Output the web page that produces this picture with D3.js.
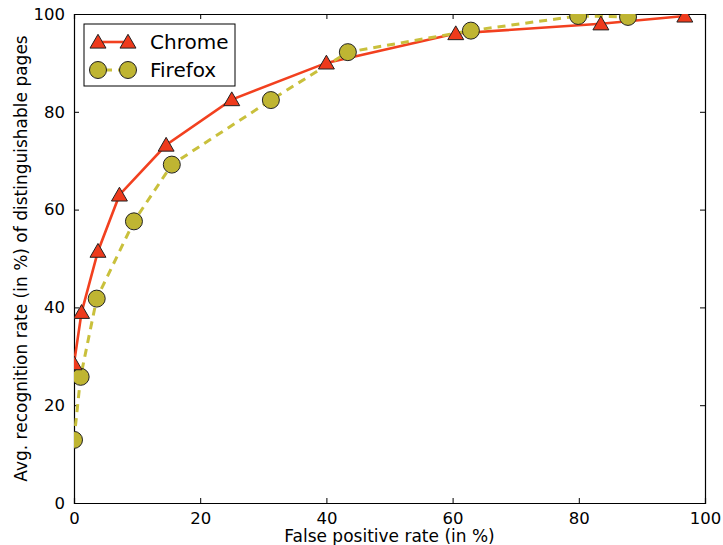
<!DOCTYPE html>
<html>
<head>
<meta charset="utf-8">
<script src="https://cdn.jsdelivr.net/npm/d3@7"></script>
<style>
body{margin:0;background:#fff;}
text{font-family:"DejaVu Sans",sans-serif;fill:#000;}
</style>
</head>
<body>
<div id="chart"></div>
<script>
// values
var chromeX=[0,1.2,3.8,7.2,14.6,25,40,60.5,83.5,96.8];
var chromeY=[28.5,39,51.5,63,73.2,82.5,90,96,98,99.6];
var firefoxX=[0,1.05,3.6,9.5,15.5,31.2,43.4,62.9,79.9,87.8];
var firefoxY=[12.9,25.8,41.8,57.6,69.2,82.4,92.2,96.6,99.6,99.4];
var ticks=[0,20,40,60,80,100];
var seriesNames=['Chrome','Firefox'];

var W=723,H=545;
var margin={top:14,right:18,bottom:42,left:74};
var width=W-margin.left-margin.right;
var height=H-margin.top-margin.bottom;

var svg=d3.select('#chart').append('svg').attr('width',W).attr('height',H);
var group=svg.append('g').attr('transform',`translate(${margin.left}, ${margin.top})`);

var xscale=d3.scaleLinear().domain([0,100]).range([0,width]);
var yscale=d3.scaleLinear().domain([0,100]).range([height,0]);

svg.append('defs').append('clipPath').attr('id','clip')
    .append('rect').attr('width',width).attr('height',height);

// inner ticks on all four sides
var fs='16.5px';
group.append('g').attr('transform',`translate(0, ${height})`)
    .call(d3.axisBottom(xscale).tickValues(ticks).tickSize(-5).tickPadding(9))
    .call(g=>g.selectAll('text').style('font-size',fs));
group.append('g')
    .call(d3.axisLeft(yscale).tickValues(ticks).tickSize(-5).tickPadding(9))
    .call(g=>g.selectAll('text').style('font-size',fs));
group.append('g')
    .call(d3.axisTop(xscale).tickValues(ticks).tickSize(-5).tickFormat(''));
group.append('g').attr('transform',`translate(${width}, 0)`)
    .call(d3.axisRight(yscale).tickValues(ticks).tickSize(-5).tickFormat(''));
group.selectAll('.domain').attr('stroke','#000').attr('stroke-width',1.2);
group.selectAll('.tick line').attr('stroke','#000');

var chromeData=chromeX.map((x,i)=>({x:x,y:chromeY[i]}));
var firefoxData=firefoxX.map((x,i)=>({x:x,y:firefoxY[i]}));
var line=d3.line().x(d=>xscale(d.x)).y(d=>yscale(d.y));

var plot=group.append('g').attr('clip-path','url(#clip)');
var red='#f2401f',redFill='#ee3a1c',yel='#c9c03c',yelFill='#bfb532';
var tri=d3.symbol().type(d3.symbolTriangle).size(110);

plot.append('path').datum(chromeData).attr('d',line).attr('fill','none')
    .attr('stroke',red).attr('stroke-width',2.6);
plot.append('path').datum(firefoxData).attr('d',line).attr('fill','none')
    .attr('stroke',yel).attr('stroke-width',3).attr('stroke-dasharray','8,6');

plot.selectAll('.ff').data(firefoxData).enter().append('circle')
    .attr('cx',d=>xscale(d.x)).attr('cy',d=>yscale(d.y)).attr('r',8.5)
    .attr('fill',yelFill).attr('stroke','#222').attr('stroke-width',1);
plot.selectAll('.ch').data(chromeData).enter().append('path')
    .attr('d',tri).attr('transform',d=>`translate(${xscale(d.x)},${yscale(d.y)+1.5})`)
    .attr('fill',redFill).attr('stroke','#222').attr('stroke-width',1);

// legend
var leg=group.append('g').attr('transform','translate(10,10)');
leg.append('rect').attr('width',151).attr('height',62).attr('fill','#fff')
    .attr('stroke','#000').attr('stroke-width',1);
leg.append('line').attr('x1',14).attr('x2',44).attr('y1',18).attr('y2',18)
    .attr('stroke',red).attr('stroke-width',2.6);
[14,44].forEach(function(x) {
    leg.append('path').attr('d',tri).attr('transform',`translate(${x},${19.5})`)
        .attr('fill',redFill).attr('stroke','#222');
});
leg.append('line').attr('x1',14).attr('x2',44).attr('y1',46).attr('y2',46)
    .attr('stroke',yel).attr('stroke-width',3).attr('stroke-dasharray','8,6').attr('stroke-dashoffset',-6);
[14,44].forEach(function(x) {
    leg.append('circle').attr('cx',x).attr('cy',46).attr('r',8.5)
        .attr('fill',yelFill).attr('stroke','#222');
});
leg.selectAll('.lt').data(seriesNames).enter().append('text')
    .attr('x',66).attr('y',(d,i)=>25+i*28).style('font-size','20px').text(d=>d);

// axis titles
group.append('text').attr('x',width/2).attr('y',height+39).attr('text-anchor','middle')
    .style('font-size','17px').text('False positive rate (in %)');
group.append('text').attr('transform',`translate(-47,${height/2}) rotate(-90)`)
    .attr('text-anchor','middle').style('font-size','17px')
    .text('Avg. recognition rate (in %) of distinguishable pages');
</script>
</body>
</html>
